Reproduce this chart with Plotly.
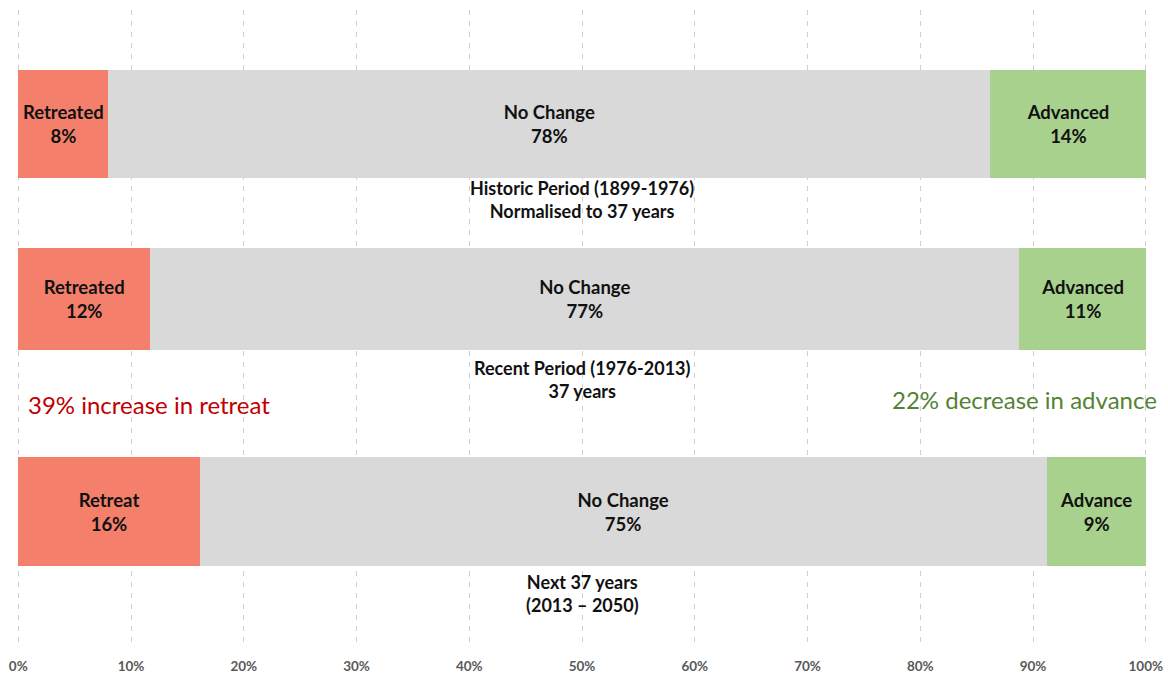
import plotly.graph_objects as go

# ---- data ----
periods = ["Historic Period (1899-1976)<br>Normalised to 37 years",
           "Recent Period (1976-2013)<br>37 years",
           "Next 37 years<br>(2013 – 2050)"]
retreat_vals = [8.0, 11.7, 16.1]
nochange_vals = [78.2, 77.1, 75.1]
advance_vals = [13.8, 11.2, 8.8]
retreat_names = ["Retreated", "Retreated", "Retreat"]
nochange_names = ["No Change", "No Change", "No Change"]
advance_names = ["Advanced", "Advanced", "Advance"]
retreat_pct = ["8%", "12%", "16%"]
nochange_pct = ["78%", "77%", "75%"]
advance_pct = ["14%", "11%", "9%"]
tick_vals = [0, 10, 20, 30, 40, 50, 60, 70, 80, 90, 100]
tick_labels = ["0%", "10%", "20%", "30%", "40%", "50%", "60%", "70%", "80%", "90%", "100%"]

# ---- layout helpers (positions in a 0..1 vertical frame, top = 0) ----
row_pos = [0.180, 0.455, 0.790]
bar_w = [0.170, 0.161, 0.172]
label_pos = [0.2984, 0.5819, 0.9189]
FONT = "Lato"

fig = go.Figure()
segs = [
    (retreat_vals, retreat_names, retreat_pct, "#F4806C"),
    (nochange_vals, nochange_names, nochange_pct, "#D9D9D9"),
    (advance_vals, advance_names, advance_pct, "#A9D18E"),
]
for vals, names, pcts, col in segs:
    fig.add_trace(go.Bar(
        y=row_pos, x=vals, orientation="h", width=bar_w,
        marker=dict(color=col, line=dict(width=0)),
        text=[f"<b>{n}<br>{p}</b>" for n, p in zip(names, pcts)],
        textposition="inside", insidetextanchor="middle",
        textfont=dict(family=FONT, size=18.5, color="#111111"),
        hoverinfo="skip", showlegend=False,
    ))

for yp, lab in zip(label_pos, periods):
    fig.add_annotation(x=50, y=yp, xref="x", yref="y",
                       text=f"<b>{lab}</b>", showarrow=False, yanchor="middle",
                       font=dict(family=FONT, size=18, color="#111111"))

fig.add_annotation(x=(28 - 18) / 1128, y=0.6205, xref="paper", yref="y",
                   text="39% increase in retreat",
                   showarrow=False, xanchor="left",
                   font=dict(family=FONT, size=24, color="#C00000"))
fig.add_annotation(x=(1157 - 18) / 1128, y=0.614, xref="paper", yref="y",
                   text="22% decrease in advance",
                   showarrow=False, xanchor="right",
                   font=dict(family=FONT, size=24, color="#548235"))

fig.update_layout(
    barmode="stack",
    width=1168, height=676,
    margin=dict(l=16, r=20, t=10, b=31),
    paper_bgcolor="white", plot_bgcolor="white",
    uniformtext=dict(minsize=16, mode="show"),
    xaxis=dict(range=[-0.2, 100.2], tickvals=tick_vals, ticktext=tick_labels,
               showgrid=True, gridcolor="#CFCFCF", griddash="5px,6px", gridwidth=1.2,
               zeroline=False, showline=False, ticks="", automargin=False,
               ticklabelstandoff=11,
               tickfont=dict(family=FONT, size=13.5, color="#595959", weight="bold")),
    yaxis=dict(range=[1, 0], showgrid=False, zeroline=False, showticklabels=False,
               showline=False, ticks="", automargin=False),
)

fig.write_html("out.html", config={"displayModeBar": False},
               post_script="document.body.style.margin='0';document.body.style.overflow='hidden';")
